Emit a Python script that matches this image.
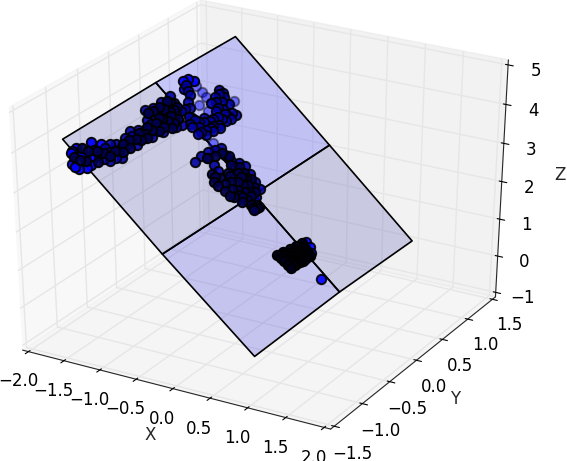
import numpy as np, seaborn as sns, matplotlib
matplotlib.use("Agg")
import matplotlib.pyplot as plt
from matplotlib.transforms import Bbox

sns.set_style("white")
plt.rcParams['font.family'] = ['DejaVu Sans']
plt.rcParams['font.size'] = 12
plt.rcParams['axes3d.grid'] = True
plt.rcParams['grid.color'] = '#e6e6e6'
plt.rcParams['grid.linewidth'] = 1.0

# Plane grid (3x3 nodes), z follows from the plane equation
grid_x = [[-1.964, -0.373, 1.046], [-1.556, 0.028, 1.379], [-1.179, 0.365, 1.698]]
grid_y = [[-0.910, -1.237, -1.502], [0.136, -0.19, -0.472], [1.039, 0.700, 0.404]]
plane_offset = 2.73

left_x = [-1.80,-1.79,-1.80,-1.72,-1.67,-1.63,-1.57,-1.55,-1.70,-1.66,-1.70,-1.58,-1.61,-1.63,-1.55,-1.48,-1.55,-1.48,-1.42,-1.39,-1.34,-1.48,-1.42,-1.38,-1.30,-1.45,-1.40,-1.45,-1.39,-1.33,-1.29,-1.22,-1.32,-1.46,-1.41,-1.38,-1.34,-1.26,-1.23,-1.29,-1.35,-1.24,-1.17,-1.08,-1.05,-1.16,-1.17,-1.15,-1.29,-1.35,-1.38,-1.34,-1.53,-1.27,-1.24,-1.15]
left_y = [-0.95,-0.90,-0.97,-1.06,-1.06,-1.05,-1.00,-0.95,-0.92,-0.91,-0.76,-0.88,-0.71,-0.81,-0.82,-0.82,-0.73,-0.73,-0.80,-0.74,-0.70,-0.62,-0.64,-0.56,-0.50,-0.52,-0.46,-0.43,-0.37,-0.33,-0.41,-0.34,-0.24,-0.16,-0.09,0.00,0.11,0.08,-0.05,-0.09,-0.15,-0.18,-0.15,-0.11,-0.06,-0.23,-0.01,0.05,0.02,-0.08,-0.23,-0.44,-0.66,-0.31,-0.25,-0.08]
band_x = [-1.75,-1.68,-1.62,-1.74,-1.67,-1.60,-1.52,-1.52,-1.45,-1.44,-1.37,-1.42,-1.34,-1.40,-1.34,-1.30,-1.36,-1.30,-1.26,-1.27,-1.33,-1.28,-1.29,-1.21,-1.19,-1.20,-1.26,-1.31,-1.24,-1.20,-1.13,-1.11,-1.29,-1.33,-1.22,-1.37,-1.39,-1.42,-1.21,-1.12]
band_y = [-0.98,-0.97,-0.95,-0.86,-0.85,-0.80,-0.88,-0.77,-0.76,-0.69,-0.65,-0.58,-0.57,-0.51,-0.46,-0.44,-0.39,-0.36,-0.38,-0.28,-0.29,-0.20,-0.14,-0.25,-0.19,-0.11,-0.13,-0.04,-0.02,-0.05,-0.09,-0.14,0.06,0.05,0.02,-0.05,-0.12,-0.17,0.06,-0.03]
loop_x = [-1.33,-1.30,-1.24,-1.27,-1.18,-1.09,-1.04,-0.97,-0.95,-0.89,-0.85,-0.81,-0.74,-0.83,-0.91,-0.73,-0.70,-0.65,-0.70,-0.78,-0.85,-0.90,-0.96,-0.95,-0.94,-0.86,-0.75,-0.79,-1.28,-1.22,-1.15,-1.13,-1.01,-0.99,-0.92,-0.88,-0.84,-0.78,-0.78,-0.70,-0.67,-0.74,-0.71,-0.87,-0.93,-0.91,-0.85,-0.80,-0.82,-0.77]
loop_y = [0.32,0.37,0.39,0.26,0.24,0.14,0.05,0.06,-0.01,0.03,-0.03,0.05,0.08,0.15,0.14,0.17,0.25,0.37,0.36,0.41,0.31,0.47,0.47,0.39,0.31,0.39,0.30,0.23,0.30,0.27,0.17,0.10,0.06,0.00,0.07,0.10,0.00,0.01,0.10,0.16,0.30,0.24,0.31,0.45,0.44,0.35,0.27,0.33,0.19,0.13]
lower_x = [-0.65,-0.56,-0.60,-0.48,-0.68,-0.69,-0.61,-0.51,-0.44,-0.39,-0.31,-0.23,-0.14,-0.04,0.04,0.06,-0.40,-0.37,-0.34,-0.25,-0.25,-0.13,-0.03,0.07,0.15,0.13,-0.07,-0.19,-0.08,-0.25,-0.34,-0.10,0.01,-0.17,-0.18,-0.62,-0.56,-0.52,-0.44,-0.36,-0.28,-0.20,-0.10,-0.02,0.02,0.00,-0.06,-0.14,-0.20,-0.29,-0.30,-0.20,-0.13,-0.03,-0.15,-0.42,-0.47,0.10,0.14,0.11]
lower_y = [-0.12,-0.01,-0.06,-0.04,-0.20,-0.29,-0.17,-0.19,-0.22,-0.06,-0.02,-0.01,-0.04,-0.08,-0.11,-0.20,-0.34,-0.26,-0.34,-0.34,-0.23,-0.34,-0.33,-0.30,-0.26,-0.32,-0.23,-0.19,-0.15,-0.11,-0.17,-0.29,-0.22,-0.35,-0.12,-0.18,-0.11,-0.05,-0.03,-0.09,-0.05,-0.07,-0.08,-0.13,-0.16,-0.28,-0.29,-0.25,-0.28,-0.28,-0.19,-0.13,-0.18,-0.20,-0.11,-0.29,-0.28,-0.31,-0.29,-0.27]
blob_x = [0.61,0.66,0.71,0.76,0.81,0.645,0.69,0.74,0.785,0.83,0.68,0.72,0.76,0.81,0.855,0.715,0.755,0.80,0.83,0.875,0.75,0.79,0.83,0.865,0.90,0.66,0.71,0.76,0.81,0.70,0.74,0.79,0.83,0.73,0.78,0.82,0.865,0.77,0.81,0.85,0.885]
blob_y = [-0.55,-0.555,-0.56,-0.565,-0.57,-0.49,-0.50,-0.505,-0.51,-0.52,-0.425,-0.435,-0.45,-0.455,-0.465,-0.36,-0.38,-0.39,-0.40,-0.41,-0.30,-0.315,-0.33,-0.345,-0.36,-0.52,-0.53,-0.535,-0.54,-0.46,-0.47,-0.48,-0.49,-0.40,-0.41,-0.425,-0.44,-0.34,-0.355,-0.37,-0.385]
rim_x = [0.89,0.78,0.84,1.14]
rim_y = [-0.32,-0.26,-0.28,-0.48]
far_x = [-1.18,-1.10,-1.03,-1.04,-0.92,-0.76,-0.66]
far_y = [0.36,0.35,0.33,0.22,0.22,0.47,-0.01]

def plane(x, y):
    return plane_offset - np.asarray(x) + np.asarray(y)

fig = plt.figure(figsize=(5.67, 4.61), dpi=100)
ax = fig.add_axes([0, 0, 1, 1], projection="3d", computed_zorder=False)
ax.set_position(Bbox.from_bounds(-0.0776, 0.034, 1.0545, 1.009))
ax.apply_aspect = lambda position=None: None
ax.set_box_aspect((1, 1, 1), zoom=1.0)
ax.view_init(elev=30, azim=-60)

gx, gy = np.array(grid_x), np.array(grid_y)
face = np.empty((2, 2, 4))
face[0, 0] = (80/255, 80/255, 180/255, 0.25)
face[0, 1] = (52/255, 52/255, 220/255, 0.25)
face[1, 0] = (0, 0, 1, 0.2)
face[1, 1] = (80/255, 80/255, 180/255, 0.25)
ax.plot_surface(gx, gy, plane(gx, gy), rstride=1, cstride=1, facecolors=face, edgecolor='k', linewidth=1.2, shade=False, zorder=1)

marker = dict(s=46, edgecolor='k', linewidth=1.4, depthshade=False)
ax.scatter(far_x, far_y, plane(far_x, far_y), c='b', alpha=0.45, zorder=2, **marker)
ax.scatter(rim_x, rim_y, plane(rim_x, rim_y), c='b', alpha=0.9, zorder=3, **marker)
main_x, main_y = np.array(left_x[:13] + loop_x[:4]), np.array(left_y[:13] + loop_y[:4])
ax.scatter(main_x, main_y, plane(main_x, main_y), c='b', alpha=0.95, zorder=3, **marker)
mid_x, mid_y = np.array(left_x[13:] + loop_x[4:] + lower_x[:16]), np.array(left_y[13:] + loop_y[4:] + lower_y[:16])
ax.scatter(mid_x, mid_y, plane(mid_x, mid_y), c='#0000a0', alpha=0.9, zorder=4, **marker)
dark_x, dark_y = np.array(band_x + lower_x[16:]), np.array(band_y + lower_y[16:])
ax.scatter(dark_x, dark_y, plane(dark_x, dark_y), c='#000050', alpha=0.95, zorder=5, **marker)
ax.scatter(blob_x, blob_y, plane(blob_x, blob_y), c='#000018', alpha=1.0, zorder=6, **marker)

ax.set_xlim(-2.083, 2.083); ax.set_ylim(-1.5625, 1.5625); ax.set_zlim(-1.125, 5.125)
ax.set_xticks(np.arange(-2, 2.01, .5)); ax.set_yticks(np.arange(-1.5, 1.51, .5)); ax.set_zticks(np.arange(-1, 5.01, 1))
ax.xaxis.set_pane_color((0.95, 0.95, 0.95, 0.5)); ax.yaxis.set_pane_color((0.9, 0.9, 0.9, 0.5)); ax.zaxis.set_pane_color((0.925, 0.925, 0.925, 0.5))
ax.tick_params(colors='k', labelsize=12)
ax.set_xlabel("X"); ax.set_ylabel("Y"); ax.set_zlabel("Z")
fig.savefig("out.png", dpi=100)
